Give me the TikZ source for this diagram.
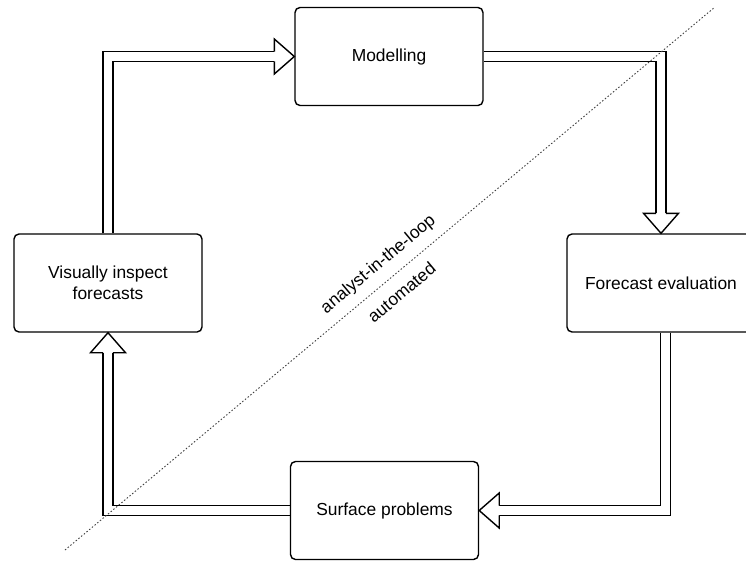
\documentclass[tikz,border=0pt]{standalone}
\usepackage{fontspec}
\setmainfont{Liberation Sans}
\usetikzlibrary{backgrounds}
\newcommand{\fhead}[2]{\draw[headline, shift={#1}, rotate=#2] (-20,-4.9) -- (-20,-17.5) -- (0,0) -- (-20,17.5) -- (-20,4.9);}
\begin{document}
\begin{tikzpicture}[x=1pt,y=-1pt,
  box/.style={draw, line width=1.4pt, rounded corners=5pt, minimum width=188pt, minimum height=98pt, inner sep=0pt, align=center, font=\fontsize{17.4}{21}\selectfont},
  flex/.style={draw, line width=1.4pt, double=white, double distance=8.4pt, line join=miter},
  headline/.style={draw, line width=1.4pt, fill=white, line join=miter},
  divider/.style={line width=0.9pt, dash pattern=on 1.5pt off 2pt, black!75},
  lbl/.style={font=\fontsize{17.4}{21}\selectfont, inner sep=0pt, rotate=39.9}]
\useasboundingbox (0,0) rectangle (746,560);
\clip (0,0) rectangle (746,560);
\node[box] (mod) at (389,56.5) {Modelling};
\node[box] (fe) at (661,283) {Forecast evaluation};
\node[box] (sp) at (384.5,510.5) {Surface problems};
\node[box] (vis) at (108,283) {Visually inspect\\forecasts};
\begin{scope}[on background layer]
\draw[flex] (vis.north) |- ([xshift=-20pt]mod.west);
\fhead{(mod.west)}{0}
\draw[flex] (mod.east) -| ([yshift=20pt]fe.north);
\fhead{(fe.north)}{-90}
\coordinate (fes) at ([xshift=4.5pt]fe.south);
\draw[flex] (fes) |- ([xshift=20pt]sp.east);
\fhead{(sp.east)}{180}
\draw[flex] (sp.west) -| ([yshift=-20pt]vis.south);
\fhead{(vis.south)}{90}
\end{scope}
\coordinate (d1) at (65,550);
\coordinate (d2) at (715,7);
\draw[divider] (d1) -- (d2);
\node[lbl] (l1) at (378.5,264.7) {analyst-in-the-loop};
\node[lbl] (l2) at (401.5,292.3) {automated};
\end{tikzpicture}
\end{document}
